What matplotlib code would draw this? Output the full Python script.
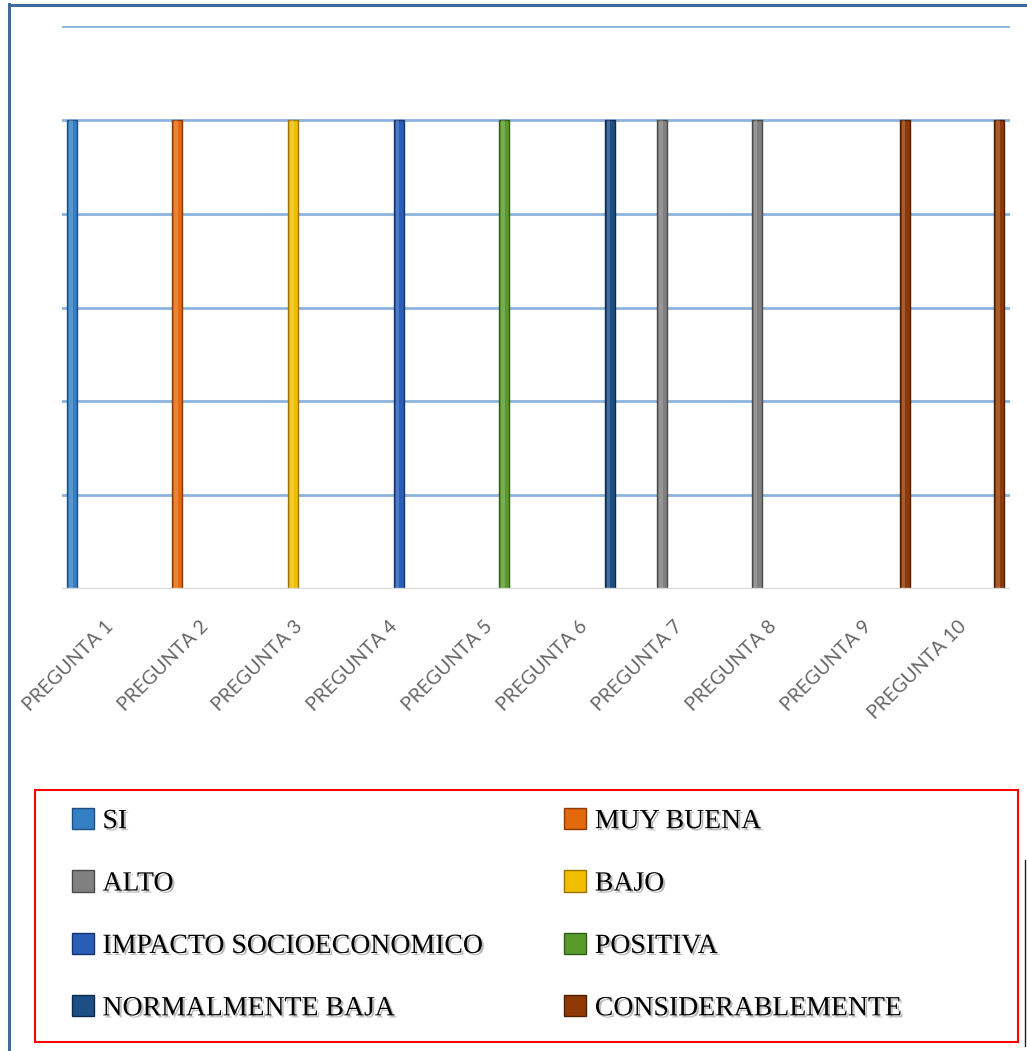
import matplotlib.pyplot as plt
import matplotlib.patheffects as pe
import matplotlib.transforms as mtransforms
from matplotlib.patches import Rectangle, Patch
from matplotlib.lines import Line2D
import numpy as np

preguntas = ['PREGUNTA 1', 'PREGUNTA 2', 'PREGUNTA 3', 'PREGUNTA 4', 'PREGUNTA 5',
             'PREGUNTA 6', 'PREGUNTA 7', 'PREGUNTA 8', 'PREGUNTA 9', 'PREGUNTA 10']

series = ['SI', 'MUY BUENA', 'ALTO', 'BAJO', 'IMPACTO SOCIOECONOMICO',
          'POSITIVA', 'NORMALMENTE BAJA', 'CONSIDERABLEMENTE']

si = [5, 0, 0, 0, 0, 0, 0, 0, 0, 0]
muy_buena = [0, 5, 0, 0, 0, 0, 0, 0, 0, 0]
alto = [0, 0, 0, 0, 0, 0, 5, 5, 0, 0]
bajo = [0, 0, 5, 0, 0, 0, 0, 0, 0, 0]
impacto = [0, 0, 0, 5, 0, 0, 0, 0, 0, 0]
positiva = [0, 0, 0, 0, 5, 0, 0, 0, 0, 0]
normalmente_baja = [0, 0, 0, 0, 0, 5, 0, 0, 0, 0]
considerablemente = [0, 0, 0, 0, 0, 0, 0, 0, 5, 5]

valores = [si, muy_buena, alto, bajo, impacto, positiva, normalmente_baja, considerablemente]

colores = ['#3580C4', '#E4680C', '#808080', '#F2BE00', '#2A5DB6', '#5A9A2C', '#1D4E84', '#8F3A06']
bordes = ['#1F4F80', '#8A3A05', '#4A4A4A', '#9A7600', '#17346E', '#345C18', '#0E2A4A', '#4E1E02']

W, H = 1027, 1051
fig = plt.figure(figsize=(W / 100, H / 100), dpi=100)
ax = fig.add_axes([62 / W, 1 - 589 / H, (1010 - 62) / W, (589 - 26) / H])

# barras agrupadas: 8 series por pregunta
x = np.arange(len(preguntas))
ranura = 10.6 / 94.8
inicio = 10.0 / 94.8
ancho = 10.0 / 94.8
for j, (vals, c, b) in enumerate(zip(valores, colores, bordes)):
    pos = x + inicio + j * ranura
    ax.bar(pos, vals, width=ancho, color=c, edgecolor=b, linewidth=1.0, zorder=3)
    # brillo central de la columna
    ax.bar(pos - ancho * 0.12, vals, width=ancho * 0.35, color='white', alpha=0.18,
           linewidth=0, zorder=4)

ax.set_xlim(0, len(preguntas))
ax.set_ylim(0, 6)
ax.set_yticks(range(1, 7))
ax.yaxis.grid(True, color='#8DB3DF', linewidth=2.0, zorder=0)
ax.tick_params(axis='y', length=0, labelleft=False)
ax.axhline(0, color='#D9D9D9', linewidth=2.4, zorder=5)

ax.set_xticks(x + 0.5)
ax.set_xticklabels(preguntas, rotation=45, ha='right', rotation_mode='anchor',
                   fontsize=14, color='#666666', family='Lato')
ax.tick_params(axis='x', length=0, pad=21)
desplaza = mtransforms.ScaledTranslation(-5 / 100, 1 / 100, fig.dpi_scale_trans)
for lbl in ax.get_xticklabels():
    lbl.set_transform(lbl.get_transform() + desplaza)

for s in ax.spines.values():
    s.set_visible(False)

# leyenda en dos columnas, orden por filas
orden = [0, 2, 4, 6, 1, 3, 5, 7]
handles = [Patch(facecolor=colores[i], edgecolor=bordes[i], linewidth=1.0) for i in orden]
labels = [series[i] for i in orden]
sombra = [pe.withSimplePatchShadow(offset=(1.5, -1.5), shadow_rgbFace='#777777', alpha=0.5)]
leg = fig.legend(handles, labels, loc='upper left', bbox_to_anchor=(58 / W, 1 - 794 / H),
                 ncol=2, frameon=False, borderpad=0, handlelength=0.8, handleheight=0.8,
                 handletextpad=0.3, labelspacing=1.3, columnspacing=2.95,
                 prop={'family': 'Liberation Serif', 'size': 20})
for t in leg.get_texts():
    t.set_path_effects(sombra)

fig.add_artist(Rectangle((35 / W, 1 - 1042 / H), (1018 - 35) / W, (1042 - 790) / H,
                         transform=fig.transFigure, fill=False, edgecolor='#FF0000', linewidth=1.5))

# marco del grafico
fig.add_artist(Line2D([9 / W, 9 / W], [0, 1 - 4 / H], transform=fig.transFigure,
                      color='#41699A', linewidth=2.2))
fig.add_artist(Line2D([9 / W, 1], [1 - 5 / H, 1 - 5 / H], transform=fig.transFigure,
                      color='#41699A', linewidth=2.2))
fig.add_artist(Line2D([1025 / W, 1025 / W], [1 - 1046 / H, 1 - 860 / H], transform=fig.transFigure,
                      color='#222222', linewidth=1.0))

fig.savefig('out.png', dpi=100, facecolor='white')
